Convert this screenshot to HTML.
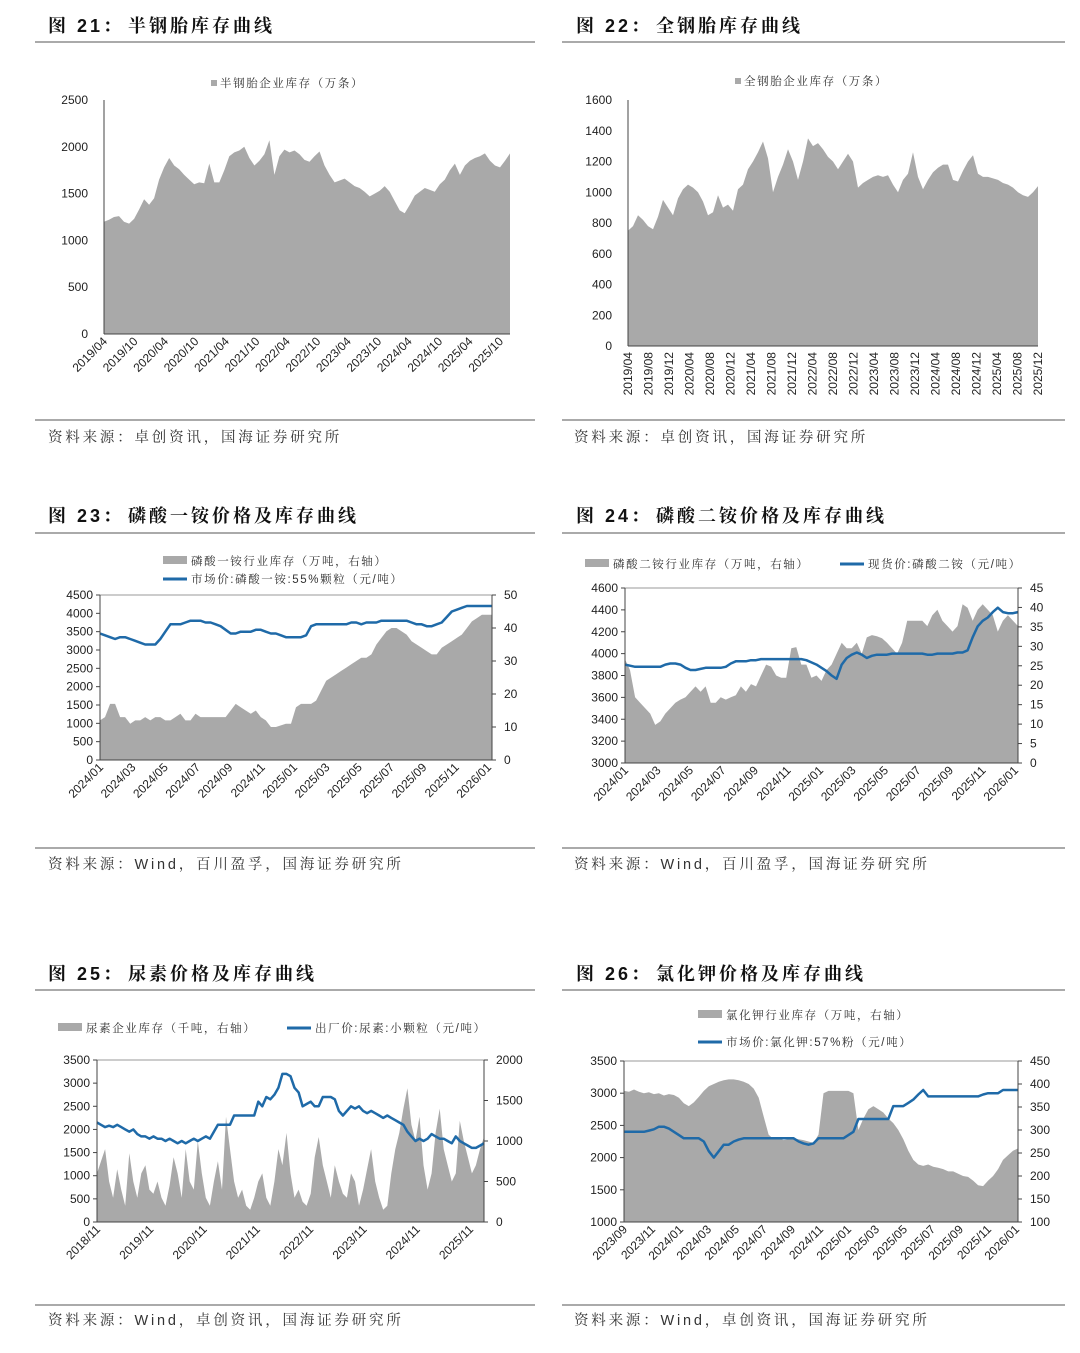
<!DOCTYPE html>
<html><head><meta charset="utf-8">
<style>
html,body{margin:0;padding:0;background:#fff;}
svg{display:block;font-family:"Liberation Sans","Noto Sans CJK SC",sans-serif;}
.ttl{font-size:18px;font-weight:bold;fill:#111;letter-spacing:3px;font-family:"Liberation Sans","Noto Serif CJK SC",serif;}
.src{font-size:14.5px;fill:#333;letter-spacing:2.8px;font-family:"Liberation Sans","Noto Serif CJK SC",serif;}
.tk{font-size:12px;fill:#222;}
.lg{font-size:11.5px;fill:#333;letter-spacing:1.6px;font-family:"Liberation Sans","Noto Serif CJK SC",serif;}
</style></head>
<body>
<svg id="page" width="1080" height="1353" viewBox="0 0 1080 1353" xmlns="http://www.w3.org/2000/svg">
<g stroke="#555" stroke-width="1">
<line x1="35" y1="42" x2="535" y2="42"/><line x1="562" y1="42" x2="1065" y2="42"/>
<line x1="35" y1="420" x2="535" y2="420"/><line x1="562" y1="420" x2="1065" y2="420"/>
<line x1="35" y1="533" x2="535" y2="533"/><line x1="562" y1="533" x2="1065" y2="533"/>
<line x1="35" y1="848" x2="535" y2="848"/><line x1="562" y1="848" x2="1065" y2="848"/>
<line x1="35" y1="990" x2="535" y2="990"/><line x1="562" y1="990" x2="1065" y2="990"/>
<line x1="35" y1="1305" x2="535" y2="1305"/><line x1="562" y1="1305" x2="1065" y2="1305"/>
</g>
<g><text class="ttl" x="48" y="32">图 21：</text><text class="ttl" x="128" y="32">半钢胎库存曲线</text></g>
<g><text class="ttl" x="576" y="32">图 22：</text><text class="ttl" x="656" y="32">全钢胎库存曲线</text></g>
<g><text class="ttl" x="48" y="522">图 23：</text><text class="ttl" x="128" y="522">磷酸一铵价格及库存曲线</text></g>
<g><text class="ttl" x="576" y="522">图 24：</text><text class="ttl" x="656" y="522">磷酸二铵价格及库存曲线</text></g>
<g><text class="ttl" x="48" y="980">图 25：</text><text class="ttl" x="128" y="980">尿素价格及库存曲线</text></g>
<g><text class="ttl" x="576" y="980">图 26：</text><text class="ttl" x="656" y="980">氯化钾价格及库存曲线</text></g>
<text class="src" x="48" y="442">资料来源：卓创资讯，国海证券研究所</text>
<text class="src" x="574" y="442">资料来源：卓创资讯，国海证券研究所</text>
<text class="src" x="48" y="869">资料来源：Wind，百川盈孚，国海证券研究所</text>
<text class="src" x="574" y="869">资料来源：Wind，百川盈孚，国海证券研究所</text>
<text class="src" x="48" y="1325">资料来源：Wind，卓创资讯，国海证券研究所</text>
<text class="src" x="574" y="1325">资料来源：Wind，卓创资讯，国海证券研究所</text>
<g id="charts"></g>
</svg>
<script>
// ---------- Chart 21 data ----------
const c21Values=[1200,1220,1250,1260,1200,1180,1230,1330,1440,1380,1450,1650,1780,1880,1800,1760,1700,1650,1600,1620,1610,1820,1620,1620,1750,1900,1940,1960,2000,1880,1800,1850,1920,2070,1700,1900,1970,1940,1960,1920,1860,1840,1900,1950,1800,1700,1620,1640,1660,1620,1580,1560,1520,1470,1500,1530,1580,1520,1420,1320,1290,1380,1480,1520,1560,1540,1520,1600,1650,1750,1820,1700,1800,1850,1880,1900,1930,1850,1800,1780,1850,1930];
const c21XLabels=["2019/04","2019/10","2020/04","2020/10","2021/04","2021/10","2022/04","2022/10","2023/04","2023/10","2024/04","2024/10","2025/04","2025/10"];
const c21YTicks=[0,500,1000,1500,2000,2500];
// ---------- Chart 22 data ----------
const c22Values=[750,780,850,820,780,760,840,950,900,850,960,1020,1050,1030,1000,940,850,870,980,900,920,880,1020,1050,1150,1200,1260,1330,1220,1000,1100,1180,1280,1200,1080,1200,1350,1300,1320,1280,1230,1200,1150,1200,1250,1200,1030,1060,1080,1100,1110,1100,1110,1050,1000,1080,1120,1260,1100,1020,1080,1130,1160,1180,1180,1080,1070,1140,1200,1240,1120,1100,1100,1090,1080,1060,1050,1030,1000,980,970,1000,1040];
const c22XLabels=["2019/04","2019/08","2019/12","2020/04","2020/08","2020/12","2021/04","2021/08","2021/12","2022/04","2022/08","2022/12","2023/04","2023/08","2023/12","2024/04","2024/08","2024/12","2025/04","2025/08","2025/12"];
const c22YTicks=[0,200,400,600,800,1000,1200,1400,1600];
// ---------- Chart 23 data ----------
const c23Inventory=[12,13,17,17,13,13,11,12,12,13,12,13,13,12,12,13,14,12,12,14,13,13,13,13,13,13,15,17,16,15,14,15,13,12,10,10,10.5,11,11,16,17,17,17,18,21,24,25,26,27,28,29,30,31,31,32,35,37,39,40,40,39,38,36,35,34,33,32,32,34,35,36,37,38,40,42,43,44,44,44];
const c23Price=[3450,3400,3350,3300,3350,3350,3300,3250,3200,3150,3150,3150,3300,3500,3700,3700,3700,3750,3800,3800,3800,3750,3750,3700,3650,3550,3450,3450,3500,3500,3500,3550,3550,3500,3450,3450,3400,3350,3350,3350,3350,3400,3650,3700,3700,3700,3700,3700,3700,3700,3750,3750,3700,3750,3750,3750,3800,3800,3800,3800,3800,3800,3750,3700,3700,3650,3650,3700,3750,3900,4050,4100,4150,4200,4200,4200,4200,4200,4200];
const c23XLabels=["2024/01","2024/03","2024/05","2024/07","2024/09","2024/11","2025/01","2025/03","2025/05","2025/07","2025/09","2025/11","2026/01"];
const c23LTicks=[0,500,1000,1500,2000,2500,3000,3500,4000,4500];
const c23RTicks=[0,10,20,30,40,50];
// ---------- Chart 24 data ----------
const c24Inventory=[26.7,23.9,16.9,15.5,14.1,12.7,9.8,10.7,12.7,14.1,15.5,16.3,16.9,18.3,19.7,18.3,19.7,15.5,15.5,16.9,16.3,16.9,17.4,19.7,18.3,20.3,19.7,22.5,25.3,24.8,22.5,21.9,21.9,29.5,29.8,25.3,25.3,21.9,22.5,21.1,23.9,25.3,28.1,30.9,29.5,29.5,30.9,28.1,32.3,32.9,32.6,32.1,30.9,29.5,28.1,30.9,36.6,36.6,36.6,36.6,35.2,38.0,39.4,36.6,35.2,33.8,35.2,40.8,39.9,36.6,39.4,40.8,39.4,38.0,33.8,36.6,38.0,36.6,35.2];
const c24Price=[3900,3890,3880,3880,3880,3880,3880,3880,3900,3910,3910,3900,3870,3850,3850,3860,3870,3870,3870,3870,3880,3910,3930,3930,3930,3940,3940,3950,3950,3950,3950,3950,3950,3950,3950,3950,3940,3920,3900,3870,3840,3800,3770,3900,3960,3990,4010,3990,3960,3980,3990,3990,3990,4000,4000,4000,4000,4000,4000,4000,3990,3990,4000,4000,4000,4000,4010,4010,4030,4150,4250,4300,4330,4380,4420,4380,4370,4370,4380];
const c24XLabels=["2024/01","2024/03","2024/05","2024/07","2024/09","2024/11","2025/01","2025/03","2025/05","2025/07","2025/09","2025/11","2026/01"];
const c24LTicks=[3000,3200,3400,3600,3800,4000,4200,4400,4600];
const c24RTicks=[0,5,10,15,20,25,30,35,40,45];
// ---------- Chart 25 data ----------
const c25Inventory=[600,750,900,500,300,650,400,200,850,500,300,600,700,400,350,500,300,200,450,800,600,300,900,500,400,1000,600,300,200,500,750,400,1300,900,500,300,400,200,150,300,500,600,300,200,500,900,700,1100,600,300,400,250,200,350,800,1050,700,500,300,700,500,350,300,600,500,200,400,650,900,500,300,150,200,600,900,1100,1400,1650,1200,1000,1300,700,400,600,1100,1400,900,700,500,600,1250,1000,800,600,700,900,1050];
const c25Price=[2150,2100,2050,2080,2050,2100,2050,2000,1950,2000,1900,1850,1850,1800,1850,1800,1800,1750,1800,1750,1700,1750,1700,1750,1800,1750,1800,1850,1800,1950,2100,2100,2100,2100,2300,2300,2300,2300,2300,2300,2600,2500,2700,2650,2750,2900,3200,3200,3150,2900,2800,2500,2550,2600,2500,2500,2700,2700,2700,2650,2400,2300,2400,2500,2450,2500,2400,2350,2400,2350,2300,2250,2300,2250,2200,2150,2100,1950,1850,1750,1800,1750,1800,1900,1850,1800,1800,1750,1700,1850,1750,1700,1650,1600,1600,1650,1700];
const c25XLabels=["2018/11","2019/11","2020/11","2021/11","2022/11","2023/11","2024/11","2025/11"];
const c25LTicks=[0,500,1000,1500,2000,2500,3000,3500];
const c25RTicks=[0,500,1000,1500,2000];
// ---------- Chart 26 data ----------
const c26Inventory=[385,383,388,383,380,382,378,380,375,378,376,370,358,352,360,372,385,395,400,405,408,410,410,408,405,400,390,370,330,290,280,282,278,280,282,280,278,275,272,290,380,385,385,385,385,385,380,300,325,345,352,345,338,325,315,300,280,255,235,225,222,225,220,218,215,210,210,205,200,198,190,180,178,190,200,215,235,245,255,260];
const c26Price=[2400,2400,2400,2400,2400,2420,2440,2480,2480,2450,2400,2350,2300,2300,2300,2300,2250,2100,2000,2100,2200,2200,2250,2280,2300,2300,2300,2300,2300,2300,2300,2300,2300,2300,2300,2250,2220,2200,2220,2300,2300,2300,2300,2300,2300,2350,2400,2600,2600,2600,2600,2600,2600,2600,2800,2800,2800,2850,2900,2980,3050,2950,2950,2950,2950,2950,2950,2950,2950,2950,2950,2950,2980,3000,3000,3000,3050,3050,3050,3050];
const c26XLabels=["2023/09","2023/11","2024/01","2024/03","2024/05","2024/07","2024/09","2024/11","2025/01","2025/03","2025/05","2025/07","2025/09","2025/11","2026/01"];
const c26LTicks=[1000,1500,2000,2500,3000,3500];
const c26RTicks=[100,150,200,250,300,350,400,450];

const NS="http://www.w3.org/2000/svg";
const root=document.getElementById('charts');
function mk(tag,attrs,parent){const e=document.createElementNS(NS,tag);for(const k in attrs)e.setAttribute(k,attrs[k]);(parent||root).appendChild(e);return e;}
function lin(d0,d1,r0,r1){return v=>r0+(v-d0)*(r1-r0)/(d1-d0);}
const AREA="#a9a9a9",BLUE="#1f6aa8",AX="#444";

function chart(id,s){
  const g=mk('g',{});
  
  
  const yL=lin(s.lDom[0],s.lDom[1],s.yb,s.yt);
  const yR=s.rDom?lin(s.rDom[0],s.rDom[1],s.yb,s.yt):null;
  const xi=n=>i=>s.x0+i*(s.x1-s.x0)/(n-1);
  if(s.box){const b=mk('rect',{x:s.x0,y:s.yt,width:s.x1-s.x0,height:s.yb-s.yt,fill:'none',stroke:'#999','stroke-width':1},g);
    }
  if(s.area){
    const ys=s.areaAxis==='r'?yR:yL;const fx=xi(s.area.length);
    let d='M'+fx(0)+','+s.yb;
    s.area.forEach((v,i)=>{d+='L'+fx(i).toFixed(1)+','+ys(v).toFixed(1);});
    d+='L'+fx(s.area.length-1)+','+s.yb+'Z';
    const a=mk('path',{d:d,fill:AREA},g);
    
    
  }
  if(s.line){
    const fx=xi(s.line.length);
    const d=s.line.map((v,i)=>(i?'L':'M')+fx(i).toFixed(1)+','+yL(v).toFixed(1)).join('');
    const l=mk('path',{d:d,fill:'none',stroke:BLUE,'stroke-width':2.5,'stroke-linejoin':'round'},g);
    
    
  }
  mk('line',{x1:s.x0,y1:s.yt,x2:s.x0,y2:s.yb,stroke:AX},g);
  mk('line',{x1:s.x0,y1:s.yb,x2:s.x1,y2:s.yb,stroke:AX},g);
  if(yR)mk('line',{x1:s.x1,y1:s.yt,x2:s.x1,y2:s.yb,stroke:AX},g);
  s.lTicks.forEach(v=>{const y=yL(v);
    if(s.box)mk('line',{x1:s.x0-4,y1:y,x2:s.x0,y2:y,stroke:AX},g);
    const t=mk('text',{x:s.x0-(s.box?7:16),y:y+4,'text-anchor':'end',class:'tk'},g);t.textContent=v;
    });
  if(yR)s.rTicks.forEach(v=>{const y=yR(v);
    mk('line',{x1:s.x1,y1:y,x2:s.x1+4,y2:y,stroke:AX},g);
    const t=mk('text',{x:s.x1+12,y:y+4,'text-anchor':'start',class:'tk'},g);t.textContent=v;
    });
  const n=s.xLabels.length;
  s.xLabels.forEach((lab,i)=>{const x=s.lx0+i*(s.lx1-s.lx0)/(n-1);
    const t=mk('text',{class:'tk','text-anchor':'end',transform:s.rot===-90?`translate(${x+4},${s.yb+6}) rotate(-90)`:`translate(${x+4},${s.yb+8}) rotate(-45)`},g);
    t.textContent=lab;
    });
}
function legend(id,kind,x,y,label){
  const g=mk('g',{});
  
  
  if(kind==='sq')mk('rect',{x:x,y:y-7,width:6,height:6,fill:AREA},g);
  else if(kind==='area')mk('rect',{x:x,y:y-9,width:24,height:8,fill:AREA},g);
  else mk('line',{x1:x,y1:y-4,x2:x+24,y2:y-4,stroke:BLUE,'stroke-width':3},g);
  const t=mk('text',{x:x+(kind==='sq'?9:28),y:y,class:'lg'},g);t.textContent=label;
}
chart('fig21',{x0:104,x1:510,yt:100,yb:334,lDom:[0,2500],lTicks:c21YTicks,area:c21Values,areaAxis:'l',xLabels:c21XLabels,lx0:104,lx1:500});
legend('fig21','sq',211,87,'半钢胎企业库存（万条）');
chart('fig22',{x0:628,x1:1038,yt:100,yb:346,lDom:[0,1600],lTicks:c22YTicks,area:c22Values,areaAxis:'l',xLabels:c22XLabels,lx0:628,lx1:1038,rot:-90});
legend('fig22','sq',735,85,'全钢胎企业库存（万条）');
chart('fig23',{box:true,x0:100,x1:492,yt:595,yb:760,lDom:[0,4500],rDom:[0,50],lTicks:c23LTicks,rTicks:c23RTicks,area:c23Inventory,areaAxis:'r',line:c23Price,xLabels:c23XLabels,lx0:100,lx1:488});
legend('fig23','area',163,565,'磷酸一铵行业库存（万吨，右轴）');
legend('fig23','line',163,583,'市场价:磷酸一铵:55%颗粒（元/吨）');
chart('fig24',{box:true,x0:625,x1:1018,yt:588,yb:763,lDom:[3000,4600],rDom:[0,45],lTicks:c24LTicks,rTicks:c24RTicks,area:c24Inventory,areaAxis:'r',line:c24Price,xLabels:c24XLabels,lx0:625,lx1:1015});
legend('fig24','area',585,568,'磷酸二铵行业库存（万吨，右轴）');
legend('fig24','line',840,568,'现货价:磷酸二铵（元/吨）');
chart('fig25',{box:true,x0:97,x1:484,yt:1060,yb:1222,lDom:[0,3500],rDom:[0,2000],lTicks:c25LTicks,rTicks:c25RTicks,area:c25Inventory,areaAxis:'r',line:c25Price,xLabels:c25XLabels,lx0:97,lx1:470});
legend('fig25','area',58,1032,'尿素企业库存（千吨，右轴）');
legend('fig25','line',287,1032,'出厂价:尿素:小颗粒（元/吨）');
chart('fig26',{box:true,x0:624,x1:1018,yt:1061,yb:1222,lDom:[1000,3500],rDom:[100,450],lTicks:c26LTicks,rTicks:c26RTicks,area:c26Inventory,areaAxis:'r',line:c26Price,xLabels:c26XLabels,lx0:624,lx1:1016});
legend('fig26','area',698,1019,'氯化钾行业库存（万吨，右轴）');
legend('fig26','line',698,1046,'市场价:氯化钾:57%粉（元/吨）');
</script>
</body></html>
